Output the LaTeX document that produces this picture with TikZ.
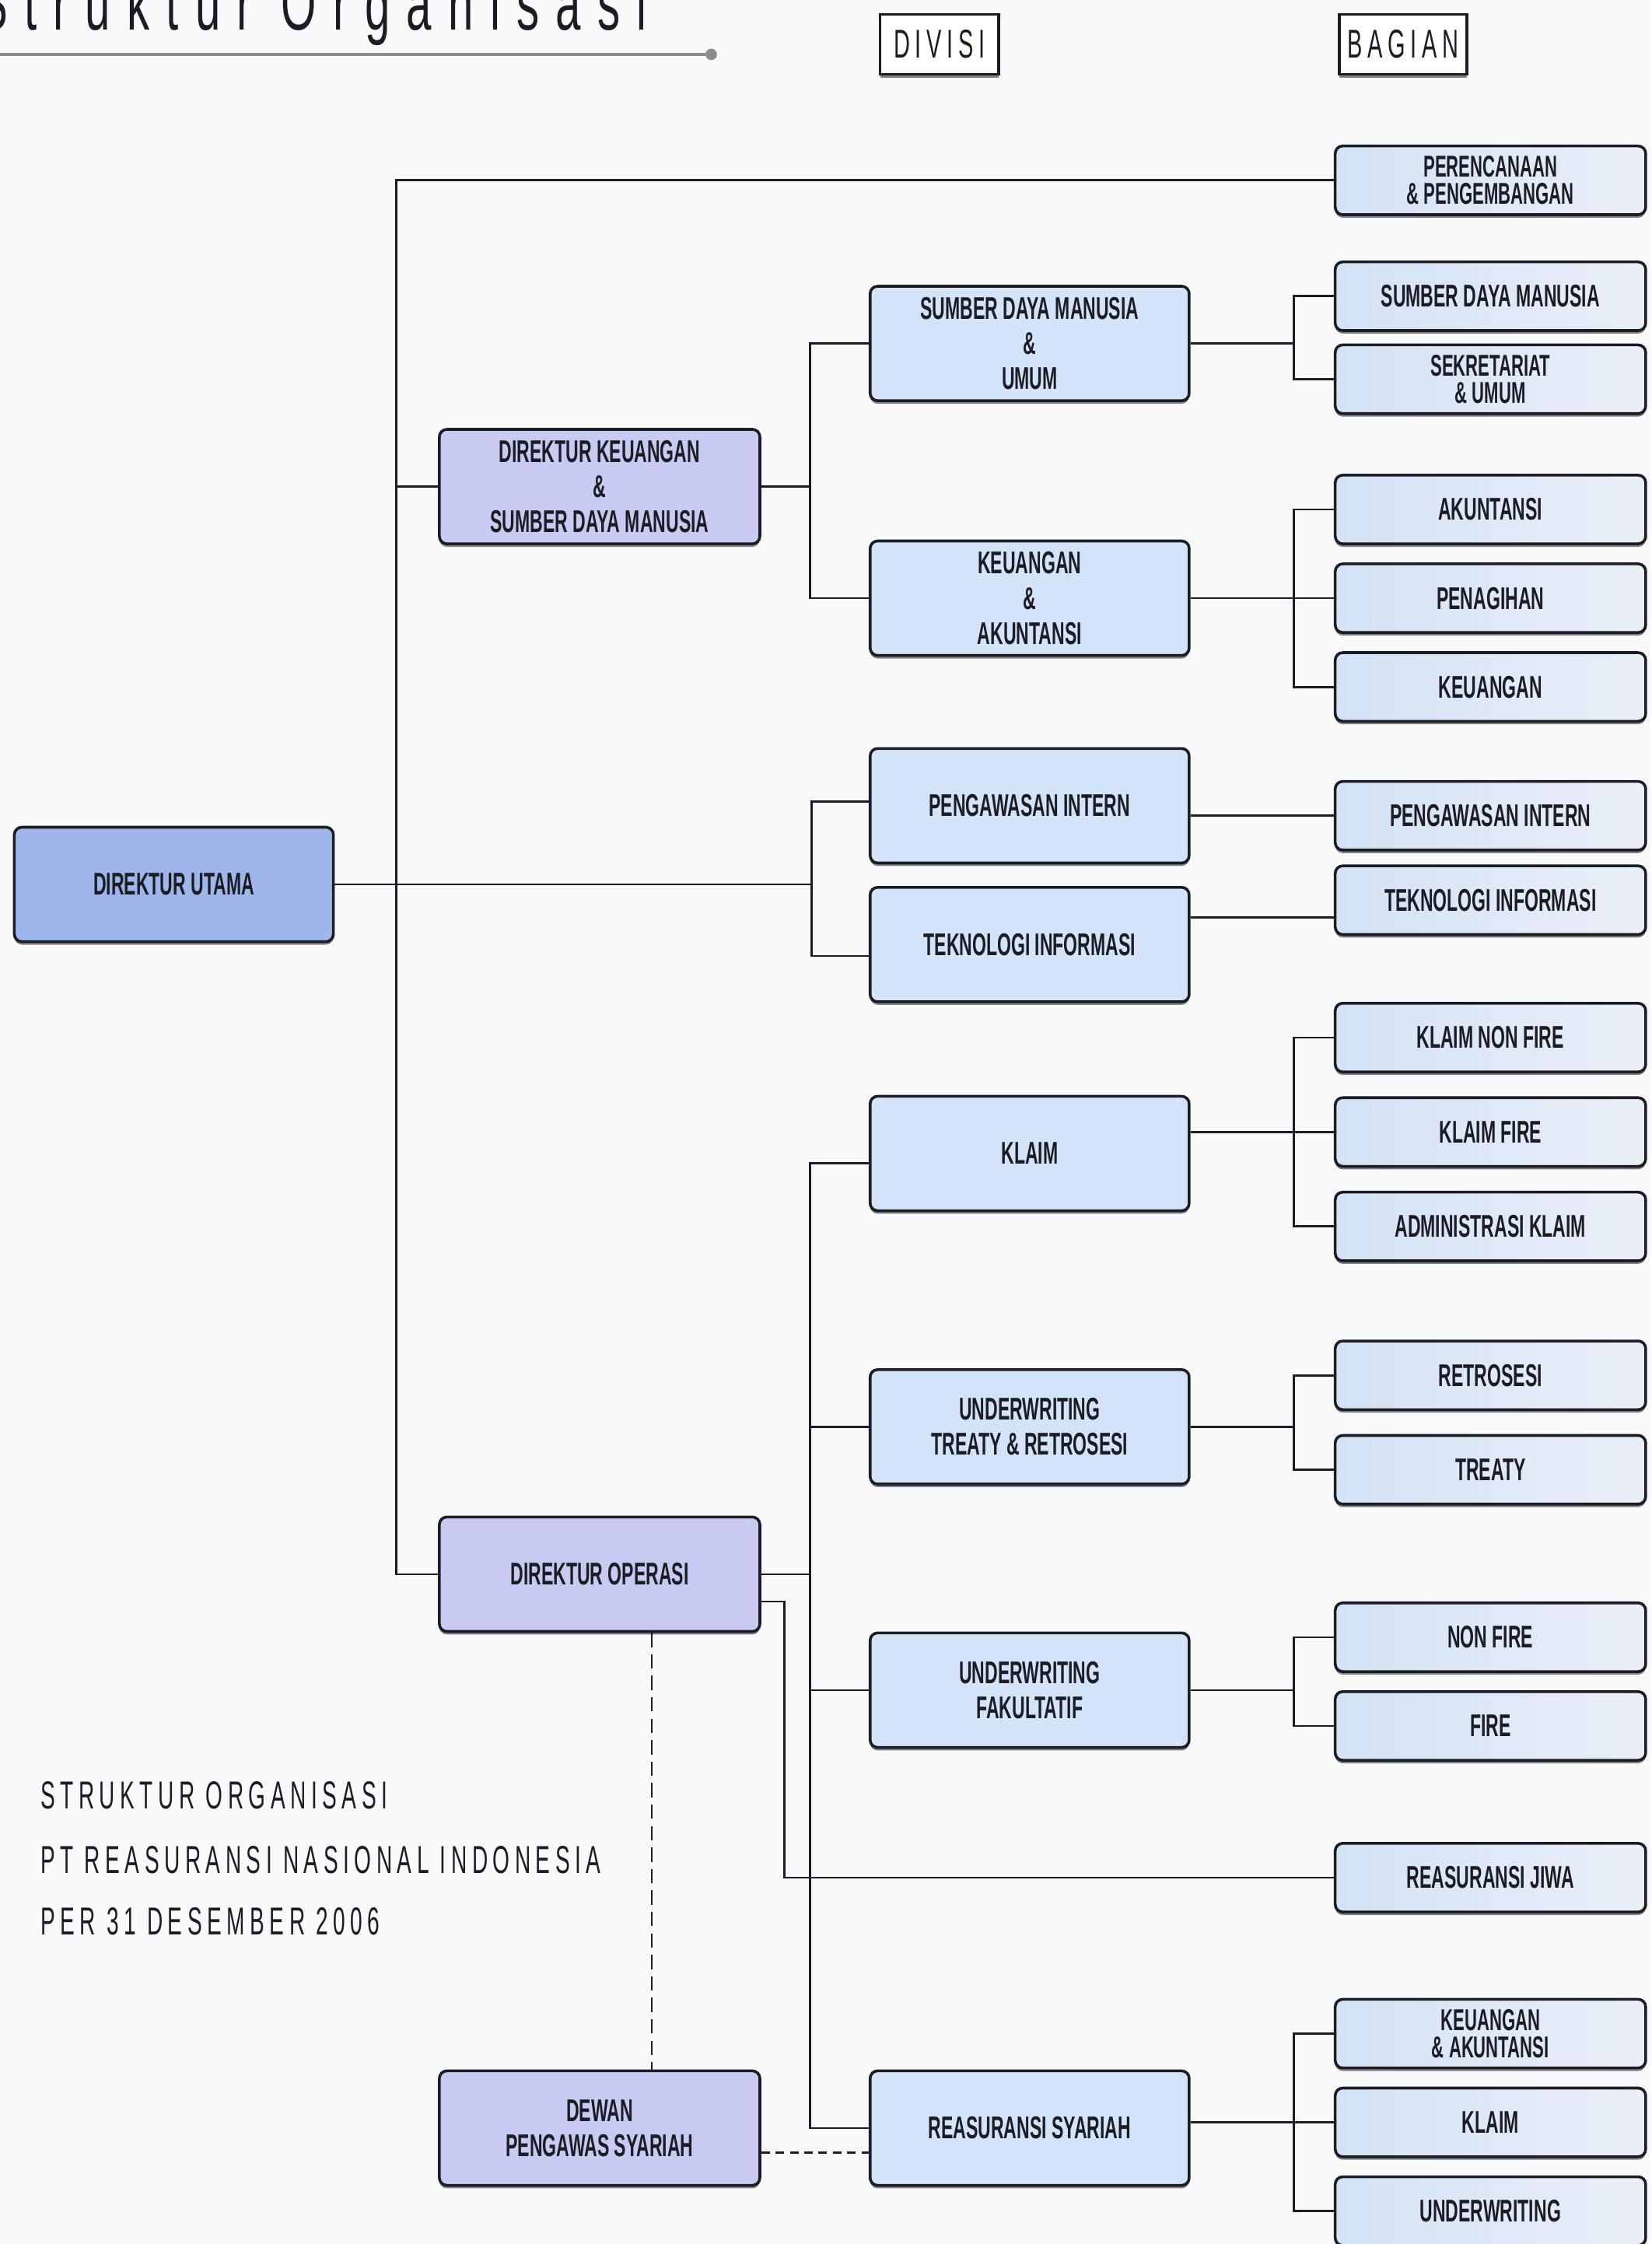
\documentclass[tikz,border=0pt]{standalone}
\usepackage{fontspec}
\setmainfont{Liberation Sans}[FakeStretch=0.57]
\newfontfamily\spacedfont{Liberation Sans}[FakeStretch=0.56,LetterSpace=13]
\newfontfamily\titlefont{Liberation Sans}[FakeStretch=0.6,LetterSpace=22]
\usetikzlibrary{shadows}

\definecolor{pagebg}{HTML}{F8F9FB}
\definecolor{ink}{HTML}{1C1C24}
\definecolor{utamafill}{HTML}{9EB6EA}
\definecolor{dirfill}{HTML}{C8CBF1}
\definecolor{divfill}{HTML}{D3E3F8}
\definecolor{bagleft}{HTML}{D3E2F6}
\definecolor{bagright}{HTML}{EAEFF7}
\definecolor{rulegray}{HTML}{8C8C8C}

\tikzset{
  orgbox/.style={draw=ink, line width=1.1pt, rounded corners=3pt, inner sep=0pt,
    align=center, text=ink, font=\bfseries\fontsize{12.5}{14}\selectfont,
    drop shadow={shadow xshift=0pt, shadow yshift=-1.2pt, fill=black!55, opacity=0.9}},
  utamabox/.style={orgbox, fill=utamafill, minimum width=4.46cm, minimum height=1.6cm},
  dirbox/.style={orgbox, fill=dirfill, minimum width=4.48cm, minimum height=1.6cm},
  divbox/.style={orgbox, fill=divfill, minimum width=4.46cm, minimum height=1.6cm},
  bagbox/.style={orgbox, left color=bagleft, right color=bagright,
    minimum width=4.34cm, minimum height=0.96cm},
  tight/.style={font=\bfseries\fontsize{12}{11}\selectfont},
  headbox/.style={draw=ink, line width=1.1pt, fill=white, inner sep=0pt, text=ink,
    minimum height=0.84cm, font=\spacedfont\fontsize{16}{18}\selectfont,
    drop shadow={shadow xshift=0pt, shadow yshift=-1.2pt, fill=black!55, opacity=0.9}},
  caption/.style={anchor=base west, inner sep=0pt, text=ink,
    font=\spacedfont\fontsize{15.5}{17}\selectfont},
  link/.style={draw=ink, line width=0.85pt},
  dashlink/.style={link, dash pattern=on 0.2cm off 0.1cm},
  dashlinkshort/.style={link, dash pattern=on 0.12cm off 0.08cm},
}

\begin{document}
\begin{tikzpicture}[x=0.02cm, y=-0.02cm]
  \fill[pagebg] (0,0) rectangle (1154,1568);
  \useasboundingbox (0,0) rectangle (1154,1568);

  % heading
  \node[anchor=base west, inner sep=0pt, text=ink,
    font=\titlefont\fontsize{30}{30}\selectfont] (title) at (-16,21) {Struktur Organisasi};
  \coordinate (ruleend) at (497,38);
  \draw[rulegray, line width=1.1pt] (0,38) -- (ruleend);
  \fill[rulegray] (ruleend) circle (0.08cm);
  \node[headbox, minimum width=1.66cm] (divisi) at (656.5,31) {DIVISI};
  \node[headbox, minimum width=1.78cm] (bagian) at (980.5,31) {BAGIAN};

  % direksi
  \node[utamabox] (utama) at (121.5,618) {DIREKTUR UTAMA};
  \node[dirbox] (dirkeu) at (419,340) {DIREKTUR KEUANGAN\\\&\\SUMBER DAYA MANUSIA};
  \node[dirbox] (dirops) at (419,1100) {DIREKTUR OPERASI};
  \node[dirbox] (dewan) at (419,1487) {DEWAN\\PENGAWAS SYARIAH};

  % divisi
  \node[divbox] (sdmu) at (719.5,240) {SUMBER DAYA MANUSIA\\\&\\UMUM};
  \node[divbox] (keuak) at (719.5,418) {KEUANGAN\\\&\\AKUNTANSI};
  \node[divbox] (pi) at (719.5,563) {PENGAWASAN INTERN};
  \node[divbox] (ti) at (719.5,660) {TEKNOLOGI INFORMASI};
  \node[divbox] (klaim) at (719.5,806) {KLAIM};
  \node[divbox] (uwtr) at (719.5,997) {UNDERWRITING\\TREATY \& RETROSESI};
  \node[divbox] (uwfak) at (719.5,1181) {UNDERWRITING\\FAKULTATIF};
  \node[divbox] (syariah) at (719.5,1487) {REASURANSI SYARIAH};

  % bagian
  \node[bagbox, tight] (renbang) at (1041.5,126) {PERENCANAAN\\\& PENGEMBANGAN};
  \node[bagbox] (bsdm) at (1041.5,207) {SUMBER DAYA MANUSIA};
  \node[bagbox, tight] (sekum) at (1041.5,265) {SEKRETARIAT\\\& UMUM};
  \node[bagbox] (akun) at (1041.5,356) {AKUNTANSI};
  \node[bagbox] (tagih) at (1041.5,418) {PENAGIHAN};
  \node[bagbox] (keu) at (1041.5,480) {KEUANGAN};
  \node[bagbox] (bpi) at (1041.5,570) {PENGAWASAN INTERN};
  \node[bagbox] (bti) at (1041.5,629) {TEKNOLOGI INFORMASI};
  \node[bagbox] (knf) at (1041.5,725) {KLAIM NON FIRE};
  \node[bagbox] (kf) at (1041.5,791) {KLAIM FIRE};
  \node[bagbox] (adk) at (1041.5,857) {ADMINISTRASI KLAIM};
  \node[bagbox] (retro) at (1041.5,961) {RETROSESI};
  \node[bagbox] (treaty) at (1041.5,1027) {TREATY};
  \node[bagbox] (nf) at (1041.5,1144) {NON FIRE};
  \node[bagbox] (fire) at (1041.5,1206) {FIRE};
  \node[bagbox] (jiwa) at (1041.5,1312) {REASURANSI JIWA};
  \node[bagbox, tight] (skeu) at (1041.5,1421) {KEUANGAN\\\& AKUNTANSI};
  \node[bagbox] (sklaim) at (1041.5,1483) {KLAIM};
  \node[bagbox] (suw) at (1041.5,1545) {UNDERWRITING};

  \node[caption] (cap1) at (28,1264) {STRUKTUR ORGANISASI};
  \node[caption] (cap2) at (28,1309) {PT REASURANSI NASIONAL INDONESIA};
  \node[caption] (cap3) at (28,1352) {PER 31 DESEMBER 2006};

  % direktur utama
  \coordinate (hub) at (567,618);
  \draw[link] (utama.east) -- (hub);
  \draw[link] ([yshift=0.06cm]pi.west) -| (hub) |- ([yshift=-0.16cm]ti.west);
  \draw[link] (renbang.west) -| ([xshift=-0.58cm]dirops.west) -- (dirops.west);
  \draw[link] ([xshift=-0.58cm]dirkeu.west) -- (dirkeu.west);

  % direktur keuangan
  \draw[link] (dirkeu.east) -- ([xshift=-0.82cm]sdmu.west |- dirkeu.east);
  \draw[link] (sdmu.west) -| ([xshift=-0.82cm]keuak.west) -- (keuak.west);

  % divisi ke bagian
  \foreach \secA/\secB in {bsdm/sekum, akun/keu, knf/adk, retro/treaty, nf/fire, skeu/suw}
    \draw[link] (\secA.west) -| ([xshift=-0.56cm]\secB.west) -- (\secB.west);
  \foreach \d/\secA in {sdmu/bsdm, uwtr/retro, uwfak/nf}
    \draw[link] (\d.east) -- ([xshift=-0.56cm]\secA.west |- \d.east);
  \foreach \d/\secM in {keuak/tagih, klaim/kf, syariah/sklaim, pi/bpi}
    \draw[link] (\d.east |- \secM.west) -- (\secM.west);
  \path ([yshift=-0.24cm]bti.west) coordinate (tiin);
  \draw[link] (ti.east |- tiin) -- (tiin);

  % direktur operasi
  \draw[link] (dirops.east) -- ([xshift=-0.82cm]klaim.west |- dirops.east);
  \draw[link] ([yshift=-0.14cm]klaim.west) -| ([xshift=-0.82cm]syariah.west) -- (syariah.west);
  \foreach \d in {uwtr, uwfak}
    \draw[link] ([xshift=-0.82cm]\d.west) -- (\d.west);
  \draw[link] ([yshift=-0.38cm]dirops.east) -| ([xshift=-7.68cm]jiwa.west) -- (jiwa.west);

  % dewan pengawas syariah
  \draw[dashlink] ([xshift=0.73cm]dirops.south) -- ([xshift=0.73cm]dewan.north);
  \draw[dashlinkshort] ([yshift=-0.34cm]dewan.east) -- ([yshift=-0.34cm]dewan.east -| syariah.west);
\end{tikzpicture}
\end{document}
